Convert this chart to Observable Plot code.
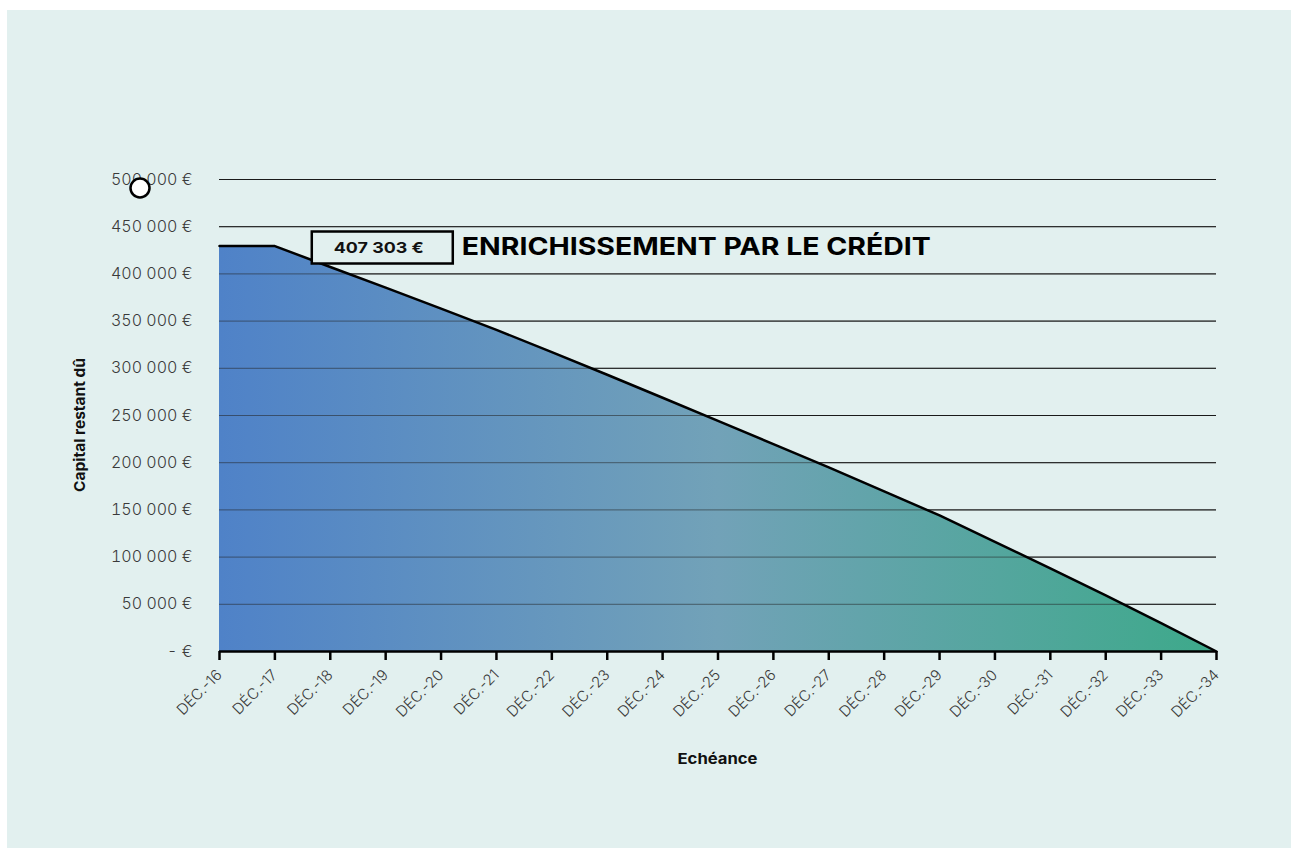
<!DOCTYPE html>
<html>
<head>
<meta charset="utf-8">
<script src="https://cdn.jsdelivr.net/npm/d3@7"></script>
<script src="https://cdn.jsdelivr.net/npm/@observablehq/plot@0.6"></script>
<style>
  html, body { margin: 0; padding: 0; background: #ffffff; }
  #bg { position: absolute; left: 7px; top: 10px; width: 1284px; height: 838px; background: #e2f0ef; }
  #chart { position: absolute; left: 0; top: 0; }
  #chart svg g[aria-label="y-axis tick label"] text, #chart svg g[aria-label="y-axis"] text { font-size: 16px; }
</style>
</head>
<body>
<div id="bg"></div>
<div id="chart"></div>
<script>
const echeances = ["DÉC.-16","DÉC.-17","DÉC.-18","DÉC.-19","DÉC.-20","DÉC.-21","DÉC.-22","DÉC.-23","DÉC.-24","DÉC.-25","DÉC.-26","DÉC.-27","DÉC.-28","DÉC.-29","DÉC.-30","DÉC.-31","DÉC.-32","DÉC.-33","DÉC.-34"];
const capital = [429500, 429500, 407303, 385400, 363200, 340700, 317200, 293200, 268800, 244300, 219700, 195000, 169700, 144100, 116100, 88000, 59500, 30100, 0];
const yTicks = [0, 50000, 100000, 150000, 200000, 250000, 300000, 350000, 400000, 450000, 500000];
const annotation = {echeance: "DÉC.-18", value: 407303, amount: "407 303 €", title: "ENRICHISSEMENT PAR LE CRÉDIT"};
const marker = {echeance: "DÉC.-16", value: 500000};
const xLabel = "Echéance";
const yLabel = "Capital restant dû";

const data = echeances.map((e, i) => ({echeance: e, capital: capital[i]}));
const fmt = d => d === 0 ? "- €" : d3.format(",")(d).replace(/,/g, " ") + " €";

const defs = () => {
  const g = d3.create("svg:defs");
  const lg = g.append("linearGradient").attr("id", "capgrad").attr("x1", "0").attr("x2", "1").attr("y1", "0").attr("y2", "0");
  lg.append("stop").attr("offset", "0%").attr("stop-color", "#4f82c8");
  lg.append("stop").attr("offset", "50%").attr("stop-color", "#72a2b8");
  lg.append("stop").attr("offset", "100%").attr("stop-color", "#3da98a");
  return g.node();
};

const plot = Plot.plot({
  width: 1291,
  height: 848,
  marginLeft: 219,
  marginRight: 75,
  marginTop: 179,
  marginBottom: 197,
  style: {background: "transparent", fontFamily: "Inter, 'Noto Sans', sans-serif", fontSize: "15px", fontWeight: 300, color: "#3a3a3a"},
  x: {type: "point", domain: echeances, padding: 0, round: false, label: null, tickRotate: -45, tickSize: 0, tickPadding: 21},
  y: {type: "linear", domain: [0, 500000], ticks: yTicks, tickFormat: fmt, label: null, tickSize: 0, tickPadding: 27},
  marks: [
    defs,
    Plot.ruleY(yTicks.filter(d => d > 0), {stroke: "#111", strokeWidth: 1}),
    Plot.areaY(data, {x: "echeance", y: "capital", fill: "url(#capgrad)"}),
    Plot.ruleY(yTicks.filter(d => d > 0), {stroke: "#222", strokeWidth: 1, strokeOpacity: 0.55}),
    Plot.lineY(data, {x: "echeance", y: "capital", stroke: "#000", strokeWidth: 2.5}),
    Plot.ruleX(echeances, {x: d => d, y1: 0, y2: 0, insetBottom: -9, stroke: "#000", strokeWidth: 2.5}),
    Plot.ruleY([0], {stroke: "#000", strokeWidth: 2.5})
  ]
});
document.getElementById("chart").appendChild(plot);

const svg = d3.select(plot);
// larger y tick labels
svg.selectAll("g[aria-label='y-axis'] text, g[aria-label='y-axis tick label'] text").style("font-size", "16px");

// Annotation positioned through the plot scales
const xs = plot.scale("x"), ys = plot.scale("y");
const X = v => xs.apply(v), Y = v => ys.apply(v);
const px = X(annotation.echeance), py = Y(annotation.value);
const ann = svg.append("g").attr("text-anchor", "start");
ann.append("rect").attr("x", px - 18).attr("y", py - 35).attr("width", 141).attr("height", 32)
  .attr("fill", "#e2f0ef").attr("stroke", "#000").attr("stroke-width", 2.5);
ann.append("text").attr("x", px + 4).attr("y", py - 19).attr("dy", "0.35em")
  .attr("font-family", "Inter, 'Liberation Sans', sans-serif").attr("font-weight", 700).attr("font-size", 15).attr("fill", "#111")
  .attr("textLength", 90).attr("lengthAdjust", "spacingAndGlyphs")
  .text(annotation.amount);
ann.append("text").attr("x", px + 132).attr("y", py - 20).attr("dy", "0.35em")
  .attr("font-family", "Inter, 'Liberation Sans', sans-serif").attr("font-weight", 700).attr("font-size", 24).attr("fill", "#000")
  .attr("textLength", 469).attr("lengthAdjust", "spacingAndGlyphs")
  .text(annotation.title);

// marker circle
const mx = X(marker.echeance), my = Y(marker.value);
svg.append("circle").attr("cx", mx - 79).attr("cy", my + 9).attr("r", 9.5)
  .attr("fill", "#fff").attr("stroke", "#000").attr("stroke-width", 2.5);

// axis labels
const x0 = X(echeances[0]), x1 = X(echeances[echeances.length - 1]);
svg.append("text").attr("x", (x0 + x1) / 2).attr("y", 759).attr("dy", "0.35em").attr("text-anchor", "middle")
  .attr("font-family", "Inter, 'Noto Sans', sans-serif").attr("font-weight", 700).attr("font-size", 15).attr("fill", "#111")
  .attr("textLength", 80).attr("lengthAdjust", "spacingAndGlyphs")
  .text(xLabel);
svg.append("text").attr("transform", `translate(80,${(Y(0) + Y(500000)) / 2 + 10}) rotate(-90)`).attr("dy", "0.35em").attr("text-anchor", "middle")
  .attr("font-family", "Inter, 'Noto Sans', sans-serif").attr("font-weight", 700).attr("font-size", 15).attr("fill", "#111")
  .attr("textLength", 134).attr("lengthAdjust", "spacingAndGlyphs")
  .text(yLabel);
</script>
</body>
</html>
